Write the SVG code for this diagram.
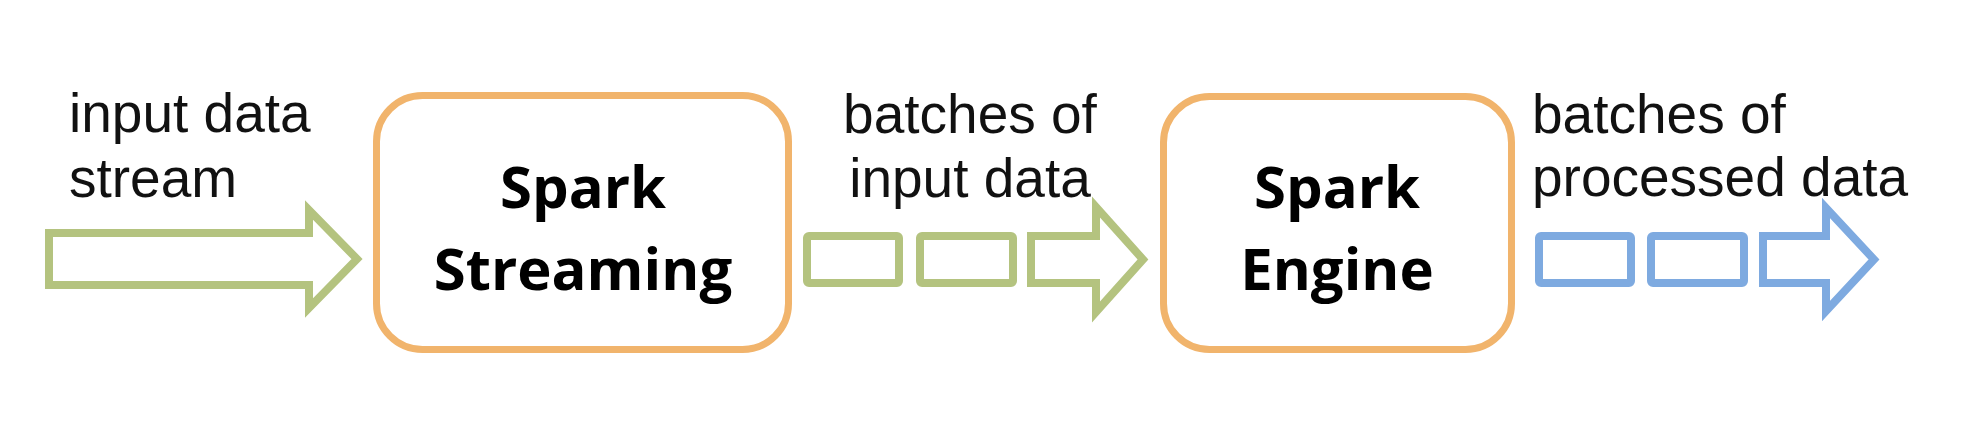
<svg xmlns="http://www.w3.org/2000/svg" width="1962" height="430" viewBox="0 0 1962 430">
<style>
.bg{fill:#ffffff}
.node{fill:#ffffff;stroke:#f1b46c;stroke-width:7}
.green{fill:#ffffff;stroke:#b4c37f;stroke-width:8;stroke-linejoin:miter}
.blue{fill:#ffffff;stroke:#7eaae0;stroke-width:8;stroke-linejoin:miter}
.lbl{font-family:"Liberation Sans",Arial,sans-serif;font-size:55px;fill:#111111}
.title{font-family:"Open Sans","Liberation Sans",sans-serif;font-weight:700;font-size:58px;fill:#000000;text-anchor:middle}
</style>
<rect class="bg" x="0" y="0" width="1962" height="430"/>
<g id="connectors">
  <path id="input-stream-arrow" class="green" d="M49,233 H309 V210 L357,259 L309,308 V285 H49 Z"/>
  <g id="input-batches">
    <rect class="green" x="807" y="236" width="92" height="47" rx="2"/>
    <rect class="green" x="920" y="236" width="93" height="47" rx="2"/>
    <path class="green" d="M1031,236 H1096 V207 L1143,259.5 L1096,312 V283 H1031 Z"/>
  </g>
  <g id="output-batches">
    <rect class="blue" x="1539" y="236" width="92" height="47" rx="2"/>
    <rect class="blue" x="1651" y="236" width="93" height="47" rx="2"/>
    <path class="blue" d="M1763,236 H1826 V208 L1874,259.5 L1826,311 V283 H1763 Z"/>
  </g>
</g>
<g id="label-input">
  <text class="lbl" x="69" y="132">input data</text>
  <text class="lbl" x="69" y="197">stream</text>
</g>
<g id="node-spark-streaming">
  <rect class="node" x="376.5" y="95.5" width="412" height="254" rx="46"/>
  <text class="title" x="583" y="208">Spark</text>
  <text class="title" x="583" y="290">Streaming</text>
</g>
<g id="label-batches-input">
  <text class="lbl" x="970" y="133" text-anchor="middle">batches of</text>
  <text class="lbl" x="970" y="197" text-anchor="middle">input data</text>
</g>
<g id="node-spark-engine">
  <rect class="node" x="1163.5" y="96.5" width="348" height="253" rx="46"/>
  <text class="title" x="1337" y="208">Spark</text>
  <text class="title" x="1337" y="290">Engine</text>
</g>
<g id="label-batches-processed">
  <text class="lbl" x="1532" y="133">batches of</text>
  <text class="lbl" x="1532" y="196">processed data</text>
</g>
</svg>
